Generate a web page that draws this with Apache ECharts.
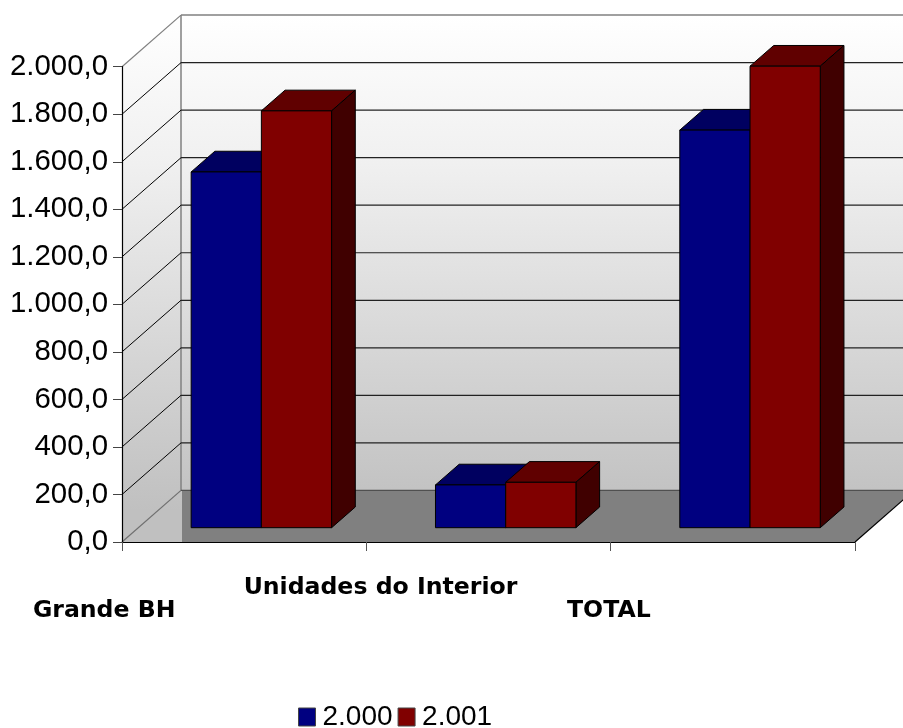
<!DOCTYPE html>
<html><head><meta charset="utf-8">
<style>html,body{margin:0;padding:0;background:#fff}#c{width:903px;height:728px}</style>
<script src="https://cdn.jsdelivr.net/npm/echarts@6/dist/echarts.min.js"></script>
</head><body><div id="c"></div>
<script>
const categories = ['Grande BH', 'Unidades do Interior', 'TOTAL'];
const values2000 = [1497, 180, 1673];
const values2001 = [1754, 191, 1942];
const gridValues = [200, 400, 600, 800, 1000, 1200, 1400, 1600, 1800, 2000];
const seriesNames = ['2.000', '2.001'];

const WALL = [59, -51.6];      // perspective depth of the whole chart box
const BAR_BASE = [17.2, -14.3];// where bars stand on the floor
const BAR_DEPTH = [23.7, -20.7];
const BAR_BAND = 0.2874;
const LINE = '#000000';
const WALLLINE = '#808080';

function poly(points, fill, stroke, lw, z2) {
  return {type:'polygon', z2:z2||0, shape:{points}, style:{fill:fill||'none', stroke:stroke||null, lineWidth:lw||1}};
}
function line(a, b, stroke, lw, z2) {
  return {type:'line', z2:z2||0, shape:{x1:a[0],y1:a[1],x2:b[0],y2:b[1]}, style:{stroke, lineWidth:lw||1}};
}
function renderBackdrop(params, api) {
  const o = api.coord([0, 0]);
  const band = api.size([1, 0])[0];
  const left = o[0] - band / 2, right = left + band * categories.length, y0 = o[1];
  const yTop = api.coord([0, 2000])[1];
  const grad = {type:'linear', global:true, x:0, y:yTop + WALL[1], x2:0, y2:y0 + WALL[1] + 20,
    colorStops:[{offset:0,color:'#ffffff'},{offset:0.3,color:'#f0f0f0'},{offset:1,color:'#c0c0c0'}]};
  const bx = left + WALL[0], by0 = y0 + WALL[1], byT = yTop + WALL[1], bxR = right + WALL[0];
  const ch = [];
  ch.push(poly([[left,yTop],[bx,byT],[bx+2,byT],[bx+2,y0],[left,y0]], grad));
  ch.push(poly([[bx,byT],[bxR,byT],[bxR,by0],[bx,by0]], grad));
  ch.push(poly([[bx+1,by0],[bxR,by0],[right,y0],[bx+1,y0]], '#808080'));
  ch.push(line([bx,byT],[bx,by0], WALLLINE, 1.5, 1));
  ch.push(line([bx,byT],[bxR,byT], WALLLINE, 1.5, 1));
  ch.push(line([left,yTop],[bx,byT], WALLLINE, 1.2, 1));
  ch.push(line([left,y0],[bx,by0], '#707070', 1.2, 1));
  ch.push(line([bx,by0],[bxR,by0], '#505050', 1.2, 1));
  ch.push(line([right,y0],[bxR,by0], LINE, 1.2, 1));
  gridValues.slice(0, -1).forEach(v => {
    const y = api.coord([0, v])[1];
    ch.push(line([left,y],[bx,y+WALL[1]], LINE, 1, 2));
    ch.push(line([bx,y+WALL[1]],[bxR,y+WALL[1]], '#222222', 1.2, 2));
  });
  return {type:'group', children:ch};
}
function makeBar(offsetIndex, front, topC, side) {
  return function(params, api) {
    const c = api.value(0), v = api.value(1);
    const base = api.coord([c, 0]), t = api.coord([c, v]);
    const w = api.size([1, 0])[0] * BAR_BAND;
    const x1 = base[0] + BAR_BASE[0] + (offsetIndex - 1) * w, x2 = x1 + w;
    const yb = base[1] + BAR_BASE[1], yt = t[1] + BAR_BASE[1];
    const dx = BAR_DEPTH[0], dy = BAR_DEPTH[1];
    return {type:'group', children:[
      poly([[x1,yt],[x2,yt],[x2+dx,yt+dy],[x1+dx,yt+dy]], topC, '#000', 1),
      poly([[x2,yt],[x2+dx,yt+dy],[x2+dx,yb+dy],[x2,yb]], side, '#000', 1),
      poly([[x1,yt],[x2,yt],[x2,yb],[x1,yb]], front, '#000', 1)
    ]};
  };
}
const labelFont = {fontFamily:'DejaVu Sans',fontWeight:'bold',fontSize:23.6,color:'#000',lineHeight:28};
const chart = echarts.init(document.getElementById('c'), null, {renderer:'canvas'});
chart.setOption({
  animation:false,
  backgroundColor:'#ffffff',
  grid:{left:122, right:48, top:66.7, bottom:186, containLabel:false},
  legend:{
    data:[{name:seriesNames[0], itemStyle:{color:'#000080',borderColor:'#444',borderWidth:1}},
          {name:seriesNames[1], itemStyle:{color:'#800000',borderColor:'#444',borderWidth:1}}],
    left:298, top:703, padding:0, itemWidth:17, itemHeight:18, itemGap:5, icon:'rect',
    textStyle:{fontFamily:'Liberation Sans', fontSize:28, color:'#000', padding:[0,0,0,2]}
  },
  xAxis:{
    type:'category', data:categories, z:5,
    axisLine:{show:true, lineStyle:{color:'#000',width:1.2}},
    axisTick:{show:true, length:9, lineStyle:{color:'#555',width:1}},
    axisLabel:{
      interval:0, margin:10, hideOverlap:false,
      formatter:(v,i)=>`{l${i}|${v}}`,
      rich:{
        l0:{...labelFont,padding:[90,280,0,0]},
        l1:{...labelFont,padding:[44,216,0,0]},
        l2:{...labelFont,padding:[90,248,0,0]}
      }
    }
  },
  yAxis:{
    type:'value', min:0, max:2000, interval:200, z:5,
    axisLine:{show:true, lineStyle:{color:'#000',width:1.2}},
    axisTick:{show:true, length:9, lineStyle:{color:'#444',width:1}},
    splitLine:{show:false},
    axisLabel:{margin:14, fontFamily:'Liberation Sans', fontSize:29.4, color:'#000',
      formatter:v=>{const s=v.toFixed(1).replace('.',',');const p=s.split(',');return p[0].replace(/\B(?=(\d{3})+$)/g,'.')+','+p[1];}}
  },
  series:[
    {type:'custom', silent:true, z:1, renderItem:renderBackdrop, data:[[0,0]], encode:{x:0,y:1}},
    {type:'custom', name:seriesNames[0], z:3, renderItem:makeBar(0,'#000080','#000060','#000040'),
     itemStyle:{color:'#000080'}, encode:{x:0,y:1}, data:values2000.map((v,i)=>[i,v])},
    {type:'custom', name:seriesNames[1], z:4, renderItem:makeBar(1,'#800000','#600000','#400000'),
     itemStyle:{color:'#800000'}, encode:{x:0,y:1}, data:values2001.map((v,i)=>[i,v])}
  ]
});
</script></body></html>
